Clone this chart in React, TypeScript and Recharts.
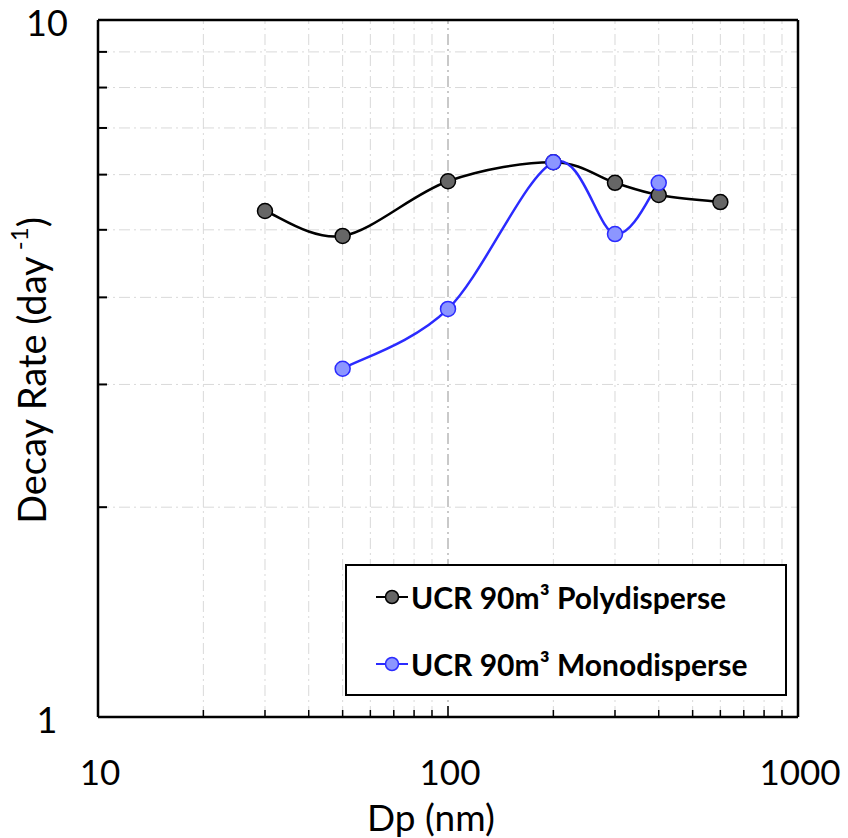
import React from "react";
import { LineChart, Line, XAxis, YAxis, ReferenceLine, Legend } from "recharts";

// Dp (nm) and decay rate (day^-1)
const polyDp = [30, 50, 100, 200, 300, 400, 600];
const polyRate = [5.32, 4.9, 5.87, 6.25, 5.84, 5.61, 5.48];
const monoDp = [50, 100, 200, 300, 400];
const monoRate = [3.16, 3.85, 6.25, 4.93, 5.84];

const xTicks = [10, 20, 30, 40, 50, 60, 70, 80, 90, 100, 200, 300, 400, 500, 600, 700, 800, 900, 1000];
const xLabels = [10, 100, 1000];
const yTicks = [1, 2, 3, 4, 5, 6, 7, 8, 9, 10];
const yLabels = [1, 10];

const polyData = polyDp.map((x, i) => ({ x, y: polyRate[i] }));
const monoData = monoDp.map((x, i) => ({ x, y: monoRate[i] }));

const FONT = "Lato, 'Open Sans', sans-serif";
const GRID = "#d9d9d9";
const DASH = "11 4 2 4";

// Excel-like smoothed line (cardinal bezier through the points)
function excelSmooth(context: any) {
  let pts: number[][] = [];
  return {
    areaStart() {},
    areaEnd() {},
    lineStart() {
      pts = [];
    },
    point(x: number, y: number) {
      pts.push([+x, +y]);
    },
    lineEnd() {
      if (!pts.length) return;
      context.moveTo(pts[0][0], pts[0][1]);
      for (let i = 0; i < pts.length - 1; i++) {
        const p0 = pts[Math.max(i - 1, 0)];
        const p1 = pts[i];
        const p2 = pts[i + 1];
        const p3 = pts[Math.min(i + 2, pts.length - 1)];
        context.bezierCurveTo(
          p1[0] + (p2[0] - p0[0]) / 6,
          p1[1] + (p2[1] - p0[1]) / 6,
          p2[0] - (p3[0] - p1[0]) / 6,
          p2[1] - (p3[1] - p1[1]) / 6,
          p2[0],
          p2[1]
        );
      }
    },
  };
}

const XTick = (props: any) => {
  const { x, y, payload } = props;
  const major = xLabels.includes(payload.value);
  return (
    <g>
      <line x1={x} x2={x} y1={y} y2={y - (major ? 11 : 7)} stroke="#000" strokeWidth={1.5} />
      {major && (
        <text x={x + 2} y={y + 54} textAnchor="middle" dominantBaseline="central" fontSize={35} fontFamily={FONT} fill="#000">
          {payload.value}
        </text>
      )}
    </g>
  );
};

const YTick = (props: any) => {
  const { x, y, payload } = props;
  const major = yLabels.includes(payload.value);
  return (
    <g>
      {!major && <line x1={x} x2={x + 9} y1={y} y2={y} stroke="#000" strokeWidth={2} />}
      {major && (
        <text x={47} y={y + 2} textAnchor="middle" dominantBaseline="central" fontSize={36} fontFamily={FONT} fill="#000">
          {payload.value}
        </text>
      )}
    </g>
  );
};

const YTitle = (props: any) => {
  const { viewBox } = props;
  const cx = 31;
  const cy = viewBox.y + viewBox.height / 2 + 2;
  return (
    <text
      x={cx}
      y={cy}
      transform={`rotate(-90 ${cx} ${cy})`}
      textAnchor="middle"
      dominantBaseline="central"
      fontSize={38}
      fontFamily={FONT}
      fill="#000"
    >
      Decay Rate (day
      <tspan fontSize={24} dy={-13}> -1</tspan>
      <tspan dy={13}>)</tspan>
    </text>
  );
};

const XTitle = (props: any) => {
  const { viewBox } = props;
  return (
    <text
      x={viewBox.x + viewBox.width / 2 - 17}
      y={816}
      textAnchor="middle"
      dominantBaseline="central"
      fontSize={37}
      fontFamily={FONT}
      fill="#000"
    >
      Dp (nm)
    </text>
  );
};

const legendItems = [
  { name: "UCR 90m³ Polydisperse", stroke: "#000000", fill: "#666666" },
  { name: "UCR 90m³ Monodisperse", stroke: "#2b2bff", fill: "#8c96ff" },
];

const LegendBox = () => (
  <div
    style={{
      width: 438,
      height: 128,
      border: "2px solid #000",
      background: "#fff",
      boxSizing: "content-box",
      fontFamily: FONT,
    }}
  >
    {legendItems.map((item, i) => (
      <div key={item.name} style={{ position: "absolute", left: 30, top: i === 0 ? 16 : 83, display: "flex", alignItems: "center", height: 34 }}>
        <svg width={34} height={20} style={{ marginRight: 2 }}>
          <line x1={1} x2={33} y1={10} y2={10} stroke={item.stroke} strokeWidth={2} />
          <circle cx={17} cy={10} r={6.5} fill={item.fill} stroke={item.stroke} strokeWidth={1.5} />
        </svg>
        <span style={{ fontSize: 30, fontWeight: 700, color: "#000", whiteSpace: "nowrap" }}>{item.name}</span>
      </div>
    ))}
  </div>
);

export default function App() {
  return (
    <div style={{ position: "absolute", left: 0, top: 0, width: 848, height: 838, background: "#fff" }}>
      <LineChart width={848} height={838} margin={{ top: 20, right: 50, bottom: 0, left: 0 }}>
        {xTicks
          .filter((v) => !xLabels.includes(v))
          .map((v) => (
            <ReferenceLine key={`gx${v}`} x={v} stroke={GRID} strokeWidth={1} strokeDasharray={DASH} />
          ))}
        <ReferenceLine x={100} stroke="#a6a6a6" strokeWidth={1.2} strokeDasharray={DASH} />
        {yTicks
          .filter((v) => !yLabels.includes(v))
          .map((v) => (
            <ReferenceLine key={`gy${v}`} y={v} stroke={GRID} strokeWidth={1} strokeDasharray={DASH} />
          ))}
        <ReferenceLine y={10} stroke="#000" strokeWidth={2.5} />
        <ReferenceLine x={1000} stroke="#000" strokeWidth={2.5} />
        <XAxis
          dataKey="x"
          type="number"
          scale="log"
          domain={[10, 1000]}
          ticks={xTicks}
          interval={0}
          allowDataOverflow
          height={121}
          tickSize={0}
          tickMargin={0}
          tickLine={false}
          tick={<XTick />}
          axisLine={{ stroke: "#000", strokeWidth: 2.5 }}
          label={<XTitle />}
        />
        <YAxis
          dataKey="y"
          type="number"
          scale="log"
          domain={[1, 10]}
          ticks={yTicks}
          interval={0}
          allowDataOverflow
          width={98}
          tickSize={0}
          tickMargin={0}
          tickLine={false}
          tick={<YTick />}
          axisLine={{ stroke: "#000", strokeWidth: 2.5 }}
          label={<YTitle />}
        />
        <Legend
          layout="vertical"
          align="center"
          verticalAlign="middle"
          content={<LegendBox />}
          wrapperStyle={{ left: 345, top: 564, width: 442, height: 132 }}
        />
        <Line
          data={polyData}
          dataKey="y"
          name="UCR 90m³ Polydisperse"
          type={excelSmooth as any}
          stroke="#000"
          strokeWidth={2.5}
          dot={{ r: 7.5, fill: "#666666", stroke: "#000", strokeWidth: 1.5 }}
          isAnimationActive={false}
        />
        <Line
          data={monoData}
          dataKey="y"
          name="UCR 90m³ Monodisperse"
          type={excelSmooth as any}
          stroke="#2b2bff"
          strokeWidth={2.5}
          dot={{ r: 7.5, fill: "#8c96ff", stroke: "#2b2bff", strokeWidth: 1.5 }}
          isAnimationActive={false}
        />
      </LineChart>
    </div>
  );
}
